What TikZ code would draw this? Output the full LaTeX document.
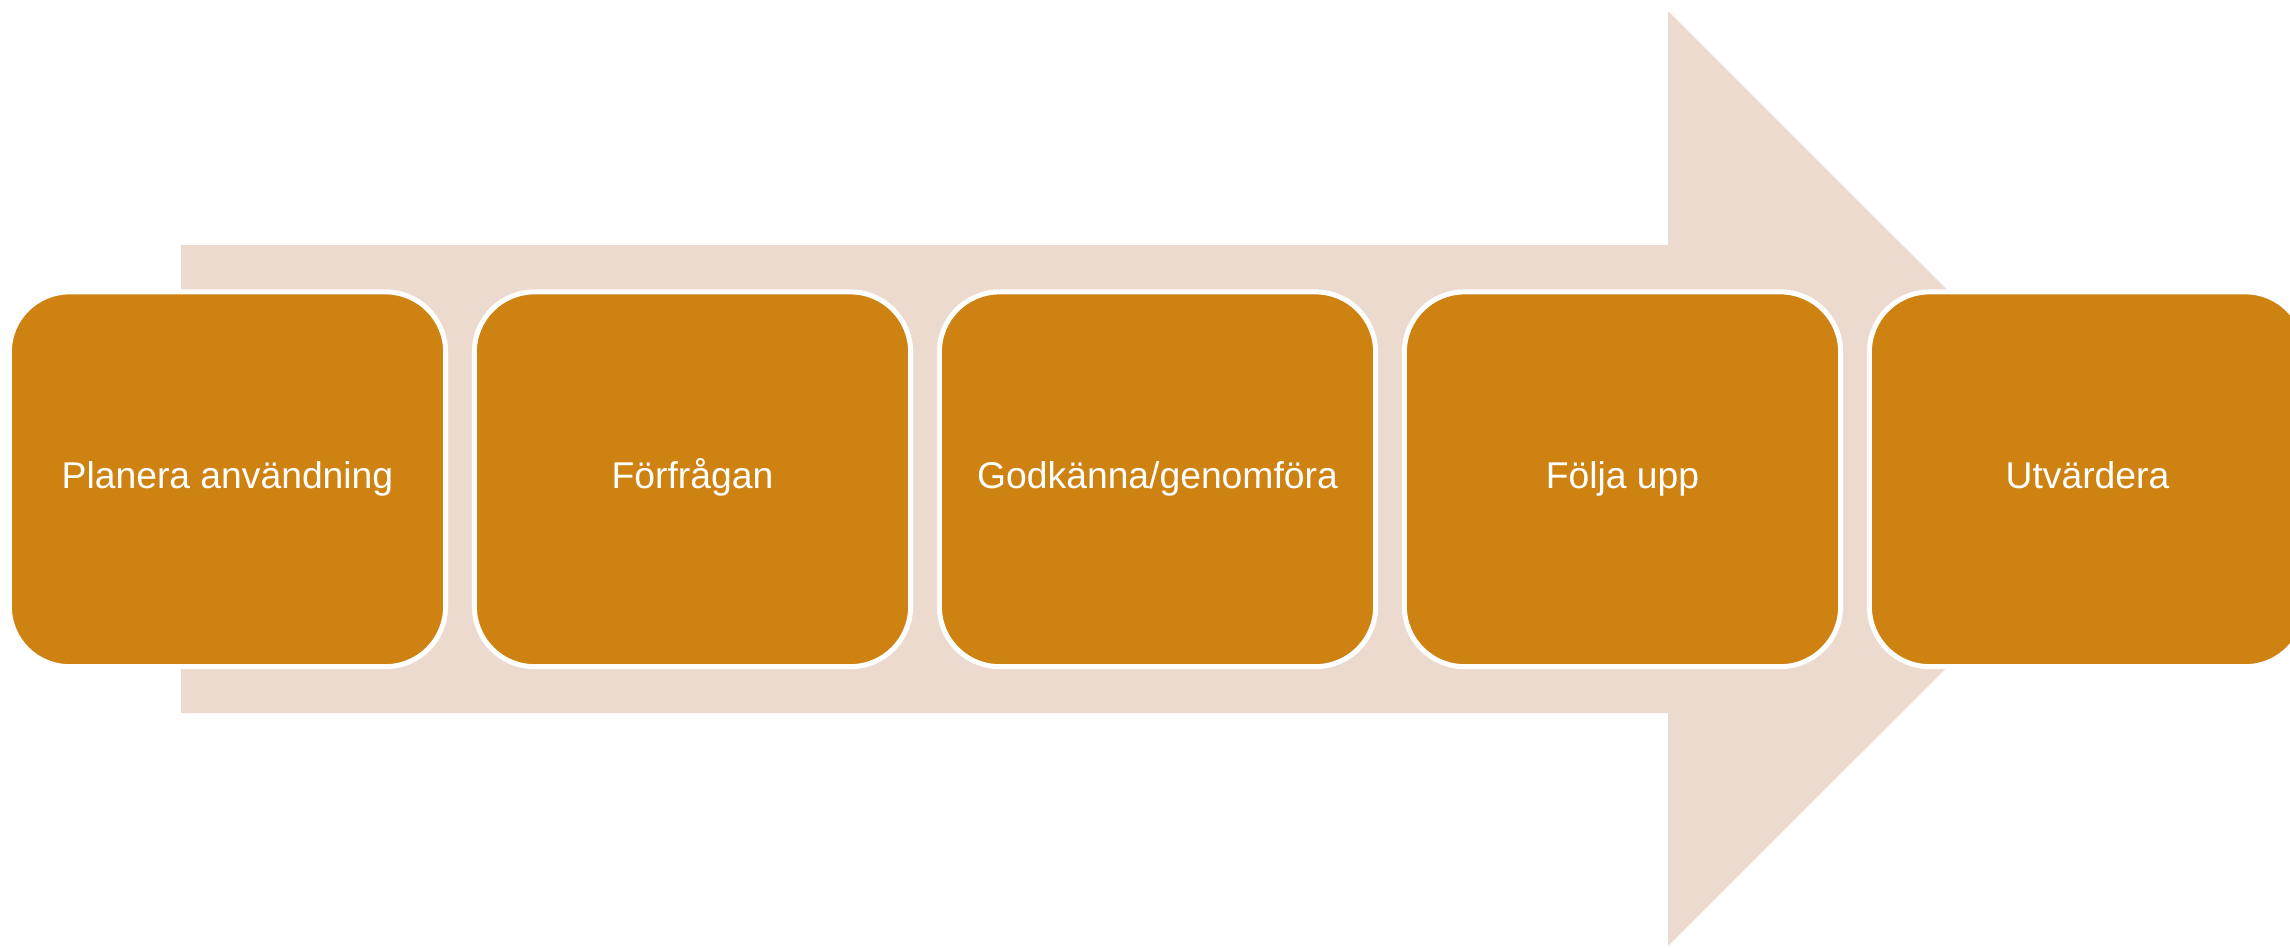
\documentclass[tikz,border=0pt]{standalone}
\usepackage{fontspec}
\setmainfont{Liberation Sans}
\definecolor{arrowbg}{RGB}{236,218,206}
\definecolor{stepfill}{RGB}{206,130,17}

\begin{document}
\begin{tikzpicture}[x=0.01cm, y=-0.01cm]
\tikzset{ stepbox/.style={rectangle, rounded corners=0.6cm, fill=stepfill, draw=white,
  line width=0.05cm, minimum width=4.36cm, minimum height=3.745cm, inner sep=0pt,
  text height=0.72em, text depth=0.21em,
  text=white, font=\fontsize{10.6}{13}\selectfont} }
\clip (0,0) rectangle (2290,947);

% background arrow
\fill [arrowbg] (181,245) -- (1668,245) -- (1668,11) -- (2136,478.5)
  -- (1668,946) -- (1668,713) -- (181,713) -- cycle;

\node [stepbox] (plan)    at (227.5,479.25)  {Planera användning};
\node [stepbox] (fraga)   at (692.5,479.25)  {Förfrågan};
\node [stepbox] (godkann) at (1157.5,479.25) {Godkänna/genomföra};
\node [stepbox] (folj)    at (1622.5,479.25) {Följa upp};
\node [stepbox] (utvard)  at (2087.5,479.25) {Utvärdera};

\end{tikzpicture}
\end{document}
